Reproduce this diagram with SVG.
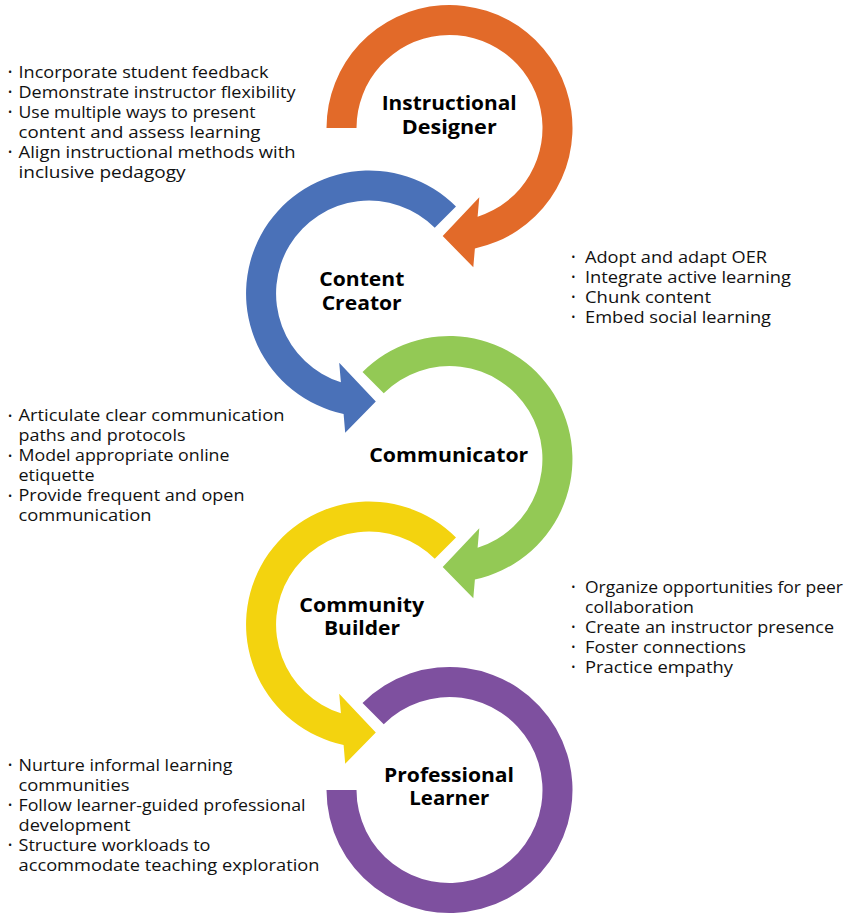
<svg xmlns="http://www.w3.org/2000/svg" xmlns:xlink="http://www.w3.org/1999/xlink" width="854" height="914" viewBox="0 0 854 914">
  <style>
    .title { font-family: "Open Sans", "Liberation Sans", sans-serif; font-weight: 700; font-size: 20px; fill: #000; text-anchor: middle; }
    .item { font-family: "Open Sans", "Liberation Sans", sans-serif; font-size: 16.5px; fill: #111; }
    .dot { font-family: "Open Sans", "Liberation Sans", sans-serif; font-size: 11px; fill: #111; text-anchor: middle; }
    .orange { fill: #E26A29; }
    .blue { fill: #4A71B8; }
    .green { fill: #93C955; }
    .yellow { fill: #F3D30F; }
    .purple { fill: #7E509F; }
  </style>
  <defs>
    <!-- circular arrow starting at 9 o'clock, running clockwise, head near 6 o'clock -->
    <path id="arrow-from-left" d="M -123 0 A 123 123 0 1 1 25.4 120.4 L 23.8 139.3 L -6.8 108 L 29.8 69.3 L 28.1 88.7 A 93 93 0 1 0 -93 0 Z"/>
    <!-- circular arrow starting at the upper-left diagonal -->
    <path id="arrow-from-diag" d="M -86.97 -86.97 A 123 123 0 1 1 25.4 120.4 L 23.8 139.3 L -6.8 108 L 29.8 69.3 L 28.1 88.7 A 93 93 0 1 0 -65.76 -65.76 Z"/>
    <!-- open ring without a head -->
    <path id="ring" d="M -86.97 -86.97 A 123 123 0 1 1 -123 0 L -93 0 A 93 93 0 1 0 -65.76 -65.76 Z"/>
  </defs>

  <g id="connectors"/>

  <g id="instructional-designer">
    <use xlink:href="#arrow-from-left" class="orange" transform="translate(449.5,128)"/>
    <text class="title" x="449.2" y="110" textLength="135" lengthAdjust="spacingAndGlyphs">Instructional</text>
    <text class="title" x="449.2" y="134" textLength="95" lengthAdjust="spacingAndGlyphs">Designer</text>
    <g>
      <text class="dot" x="10" y="76">•</text>
      <text class="item" x="18.5" y="77.5" textLength="250" lengthAdjust="spacingAndGlyphs">Incorporate student feedback</text>
      <text class="dot" x="10" y="96">•</text>
      <text class="item" x="18.5" y="97.5" textLength="277" lengthAdjust="spacingAndGlyphs">Demonstrate instructor flexibility</text>
      <text class="dot" x="10" y="116">•</text>
      <text class="item" x="18.5" y="117.5" textLength="237" lengthAdjust="spacingAndGlyphs">Use multiple ways to present</text>
      <text class="item" x="18.5" y="137.5" textLength="242" lengthAdjust="spacingAndGlyphs">content and assess learning</text>
      <text class="dot" x="10" y="156">•</text>
      <text class="item" x="18.5" y="157.5" textLength="277" lengthAdjust="spacingAndGlyphs">Align instructional methods with</text>
      <text class="item" x="18.5" y="177.5" textLength="167" lengthAdjust="spacingAndGlyphs">inclusive pedagogy</text>
    </g>
  </g>

  <g id="content-creator">
    <use xlink:href="#arrow-from-diag" class="blue" transform="translate(369,293.5) scale(-1,1)"/>
    <text class="title" x="361.8" y="286" textLength="85" lengthAdjust="spacingAndGlyphs">Content</text>
    <text class="title" x="361.7" y="310" textLength="80" lengthAdjust="spacingAndGlyphs">Creator</text>
    <g>
      <text class="dot" x="573.3" y="261">•</text>
      <text class="item" x="585" y="262.5" textLength="182" lengthAdjust="spacingAndGlyphs">Adopt and adapt OER</text>
      <text class="dot" x="573.3" y="281">•</text>
      <text class="item" x="585" y="282.5" textLength="206" lengthAdjust="spacingAndGlyphs">Integrate active learning</text>
      <text class="dot" x="573.3" y="301">•</text>
      <text class="item" x="585" y="302.5" textLength="126" lengthAdjust="spacingAndGlyphs">Chunk content</text>
      <text class="dot" x="573.3" y="321">•</text>
      <text class="item" x="585" y="322.5" textLength="186" lengthAdjust="spacingAndGlyphs">Embed social learning</text>
    </g>
  </g>

  <g id="communicator">
    <use xlink:href="#arrow-from-diag" class="green" transform="translate(449.5,459)"/>
    <text class="title" x="448.8" y="461.5" textLength="159" lengthAdjust="spacingAndGlyphs">Communicator</text>
    <g>
      <text class="dot" x="10" y="419.5">•</text>
      <text class="item" x="18.5" y="421" textLength="266" lengthAdjust="spacingAndGlyphs">Articulate clear communication</text>
      <text class="item" x="18.5" y="441" textLength="167" lengthAdjust="spacingAndGlyphs">paths and protocols</text>
      <text class="dot" x="10" y="459.5">•</text>
      <text class="item" x="18.5" y="461" textLength="211" lengthAdjust="spacingAndGlyphs">Model appropriate online</text>
      <text class="item" x="18.5" y="481" textLength="76" lengthAdjust="spacingAndGlyphs">etiquette</text>
      <text class="dot" x="10" y="499.5">•</text>
      <text class="item" x="18.5" y="501" textLength="226" lengthAdjust="spacingAndGlyphs">Provide frequent and open</text>
      <text class="item" x="18.5" y="521" textLength="133" lengthAdjust="spacingAndGlyphs">communication</text>
    </g>
  </g>

  <g id="community-builder">
    <use xlink:href="#arrow-from-diag" class="yellow" transform="translate(369,624.5) scale(-1,1)"/>
    <text class="title" x="361.8" y="611.5" textLength="125" lengthAdjust="spacingAndGlyphs">Community</text>
    <text class="title" x="362" y="635" textLength="76" lengthAdjust="spacingAndGlyphs">Builder</text>
    <g>
      <text class="dot" x="573.3" y="591">•</text>
      <text class="item" x="585" y="592.5" textLength="258" lengthAdjust="spacingAndGlyphs">Organize opportunities for peer</text>
      <text class="item" x="585" y="612.5" textLength="109" lengthAdjust="spacingAndGlyphs">collaboration</text>
      <text class="dot" x="573.3" y="631">•</text>
      <text class="item" x="585" y="632.5" textLength="249" lengthAdjust="spacingAndGlyphs">Create an instructor presence</text>
      <text class="dot" x="573.3" y="651">•</text>
      <text class="item" x="585" y="652.5" textLength="161" lengthAdjust="spacingAndGlyphs">Foster connections</text>
      <text class="dot" x="573.3" y="671">•</text>
      <text class="item" x="585" y="672.5" textLength="148" lengthAdjust="spacingAndGlyphs">Practice empathy</text>
    </g>
  </g>

  <g id="professional-learner">
    <use xlink:href="#ring" class="purple" transform="translate(449.5,790)"/>
    <text class="title" x="449" y="781.5" textLength="130" lengthAdjust="spacingAndGlyphs">Professional</text>
    <text class="title" x="449.3" y="805" textLength="80" lengthAdjust="spacingAndGlyphs">Learner</text>
    <g>
      <text class="dot" x="10" y="769">•</text>
      <text class="item" x="18.5" y="770.5" textLength="214" lengthAdjust="spacingAndGlyphs">Nurture informal learning</text>
      <text class="item" x="18.5" y="790.5" textLength="111" lengthAdjust="spacingAndGlyphs">communities</text>
      <text class="dot" x="10" y="809">•</text>
      <text class="item" x="18.5" y="810.5" textLength="287" lengthAdjust="spacingAndGlyphs">Follow learner-guided professional</text>
      <text class="item" x="18.5" y="830.5" textLength="112" lengthAdjust="spacingAndGlyphs">development</text>
      <text class="dot" x="10" y="849">•</text>
      <text class="item" x="18.5" y="850.5" textLength="192" lengthAdjust="spacingAndGlyphs">Structure workloads to</text>
      <text class="item" x="18.5" y="870.5" textLength="301" lengthAdjust="spacingAndGlyphs">accommodate teaching exploration</text>
    </g>
  </g>
</svg>
